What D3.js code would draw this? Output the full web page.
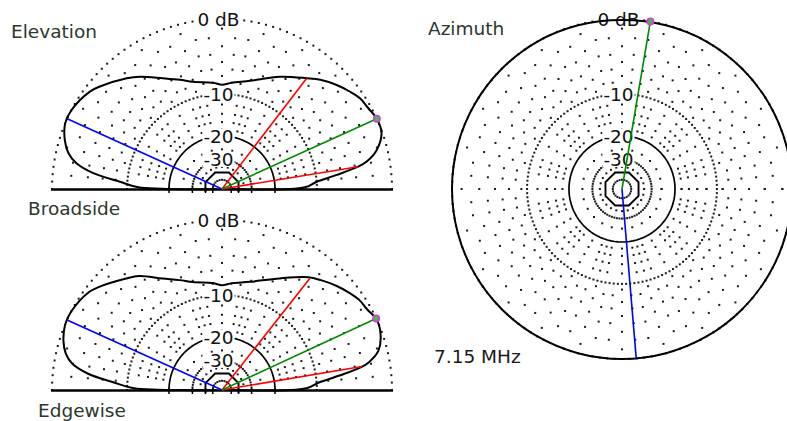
<!DOCTYPE html>
<html><head><meta charset="utf-8">
<script src="https://cdn.jsdelivr.net/npm/d3@7"></script>
<style>html,body{margin:0;padding:0;background:#fff;overflow:hidden}</style>
</head><body>
<svg id="c" width="787" height="421" xmlns="http://www.w3.org/2000/svg"></svg>
<script>
// ---------------- data ----------------
const titleTexts = ["Elevation", "Broadside", "Edgewise", "Azimuth", "7.15 MHz"];
const ringLabelText = ["0 dB", "-10", "-20", "-30"];
const ringLabelDb = [0, -10, -20, -30];

// grid levels (dB, ARRL log scale)
const denseRingDb = [0, -10, -30, -50];
const denseRingStep = [2.5, 2.5, 5, 15];
const sparseRingDb = [-2, -4, -6, -8, -12, -14, -16, -18];
const sparseRingStep = [5, 5, 5, 5, 10, 10, 10, 10];
const spokeDb = [-1, -3, -5, -7, -9, -12, -14, -16, -18, -25, -35];
const spokeStepDeg = 15;
const solidRingDb = -20;
const octagonRingDb = -40;
const groundTickDb = [-20, -30, -40, -50];

// elevation patterns: angle (deg above horizon, 0 = right) and gain (dB)
const elevAngles = [0, 1.2, 4.4, 7, 9.3, 10.7, 14.1, 19.3, 24.4, 29,
  33.3, 37.2, 42.2, 48, 52.6, 62.7, 75.5, 84.8, 90, 94.8,
  105.1, 111.1, 118.1, 126.1, 130.7, 140, 143.6, 152.5, 157.3, 162.7,
  166.9, 170, 173, 175.9, 178.8, 180];
const elevTopDb = [-60, -12.3, -10, -6.6, -3.6, -2.5, -1.1, -0.1, 0, -0.3,
  -0.5, -0.95, -1.6, -2.5, -3.4, -5.1, -7.2, -8.0, -8.4, -8.0,
  -7.3, -6.4, -5.2, -3.45, -2.6, -1.1, -0.6, 0, 0, -0.55,
  -1.3, -2.4, -4.65, -8.7, -12.2, -60];
const elevBottomDb = [-60, -12.0, -9.6, -6.2, -3.2, -2.2, -0.9, -0.2, 0, -0.4,
  -0.6, -1.0, -1.6, -2.4, -3.1, -5.2, -7.2, -7.9, -8.3, -7.9,
  -7.2, -6.3, -5.1, -3.2, -2.5, -1.0, -0.5, 0, 0, -0.4,
  -1.0, -1.9, -3.9, -7.6, -11.3, -60];

// marker lines: max angle, back angle, -3 dB beam edges
const topMaxAngle = 24.4, topBackAngle = 155.6;
const topBeamAngles = [9.3, 52.6], topBeamDb = [-3.6, -3.4];
const botMaxAngle = 24.9, botBackAngle = 155.7;
const botBeamAngles = [9.5, 51.8], botBeamDb = [-3.1, -3.1];

// azimuth pattern
const azAngles = [0, 15, 30, 45, 60, 75, 90, 105, 120, 135, 150, 165,
  180, 195, 210, 225, 240, 255, 270, 285, 300, 315, 330, 345];
const azDb = [0, 0, 0, 0, 0, -0.05, -0.1, -0.05, 0, 0, 0, 0,
  0, 0, 0, 0, 0, 0, 0, 0, 0, 0, 0, 0];
const azMaxAngle = 80.4, azBackAngle = 274.8;

// ---------------- drawing ----------------
const svg = d3.select("#c");
const R = 170;
const FONT = "DejaVu Sans, Verdana, sans-serif";
const FS = 18.5;

// ARRL log scale: r = R * 0.89^(-dB/2)  ==  R * g^0.50609 with g = field ratio
const gainScale = d3.scalePow().exponent(0.50609).domain([0, 1]).range([0, R]);
const rad = db => gainScale(Math.pow(10, db / 20));
// math angle (deg, ccw from +x) -> d3 radial angle
const ang = d3.scaleLinear().domain([0, 360]).range([Math.PI / 2, Math.PI / 2 - 2 * Math.PI]);
const P = (a, db) => d3.pointRadial(ang(a), rad(db));

function drawPolar(cx, cy, span, pattern, lines, closed) {
  const g = svg.append("g").attr("transform", `translate(${cx},${cy})`);
  const dots = [];
  denseRingDb.forEach((db, i) => {
    d3.range(0, span + (span === 360 ? 0 : 0.01), denseRingStep[i]).forEach(a => dots.push(P(a, db)));
  });
  sparseRingDb.forEach((db, i) => {
    d3.range(0, span + (span === 360 ? 0 : 0.01), sparseRingStep[i]).forEach(a => {
      if (a % spokeStepDeg === 0) return;
      dots.push(P(a, db));
    });
  });
  d3.range(0, span + 0.01, spokeStepDeg).forEach(a => {
    if (span < 360 && (a === 0 || a === 180)) return;
    spokeDb.forEach(db => dots.push(P(a, db)));
  });
  g.append("g").selectAll("rect").data(dots).join("rect")
    .attr("x", d => d[0] - 1).attr("y", d => d[1] - 1)
    .attr("width", 2).attr("height", 2).attr("fill", "#1c1c1c");

  // solid -20 ring
  const ringAngles = d3.range(span === 360 ? 0 : -1.5, span === 360 ? 360 : 181.6, 2);
  const ringLine = d3.lineRadial().angle(a => ang(a)).radius(rad(solidRingDb))
    .curve(span === 360 ? d3.curveLinearClosed : d3.curveLinear);
  g.append("path").attr("d", ringLine(ringAngles))
    .attr("fill", "none").attr("stroke", "#000").attr("stroke-width", 1.7);

  // octagon circumscribing the -40 dB ring
  const rho = rad(octagonRingDb) / Math.cos(Math.PI / 8);
  const octPts = span === 360
    ? d3.range(22.5, 360, 45).map(a => d3.pointRadial(ang(a), rho))
    : [[rad(octagonRingDb), 3]].concat(d3.range(22.5, 180, 45).map(a => d3.pointRadial(ang(a), rho)), [[-rad(octagonRingDb), 3]]);
  g.append("path")
    .attr("d", (span === 360 ? d3.line().curve(d3.curveLinearClosed) : d3.line())(octPts))
    .attr("fill", "none").attr("stroke", "#000").attr("stroke-width", 1.9);

  if (span < 360) {
    g.append("line").attr("x1", -R - 1).attr("x2", R + 1).attr("y1", 0.5).attr("y2", 0.5)
      .attr("stroke", "#000").attr("stroke-width", 2.4);
    groundTickDb.forEach(db => [-1, 1].forEach(s => {
      g.append("line").attr("x1", s * rad(db)).attr("x2", s * rad(db))
        .attr("y1", -2).attr("y2", 4).attr("stroke", "#000").attr("stroke-width", 1.5);
    }));
  }

  // ring labels with white background
  ringLabelDb.forEach((db, i) => {
    const y = -rad(db);
    const t = g.append("text").attr("x", -3.5).attr("y", y + 6.7)
      .attr("text-anchor", "middle").attr("font-family", FONT).attr("font-size", FS)
      .attr("fill", "#111").text(ringLabelText[i]);
    const bb = t.node().getBBox();
    g.insert("rect", () => t.node()).attr("x", bb.x - 1).attr("y", y - 7.5)
      .attr("width", bb.width + 2).attr("height", 15).attr("fill", "#fff");
  });

  // pattern
  const pts = pattern.angles.map((a, i) => ({ a, db: pattern.db[i] }));
  const pl = d3.lineRadial().angle(d => ang(d.a)).radius(d => rad(d.db))
    .curve(closed ? d3.curveCatmullRomClosed.alpha(0.5) : d3.curveCatmullRom.alpha(0.5));
  g.append("path").attr("d", pl(pts)).attr("fill", "none")
    .attr("stroke", "#000").attr("stroke-width", 2);

  // lines
  lines.forEach(l => {
    const p = P(l.a, l.db);
    g.append("line").attr("x1", 0).attr("y1", 0).attr("x2", p[0]).attr("y2", p[1])
      .attr("stroke", l.color).attr("stroke-width", 1.6);
  });
  const m = lines.find(l => l.marker);
  if (m) {
    const p = P(m.a, m.db);
    g.append("circle").attr("cx", p[0]).attr("cy", p[1]).attr("r", 3.2)
      .attr("fill", "#3fbf3f").attr("stroke", "#d838e0").attr("stroke-width", 1.6);
  }
}

drawPolar(222, 189, 180, { angles: elevAngles, db: elevTopDb }, [
  { a: topBackAngle, db: 0, color: "#0000ff" },
  { a: topBeamAngles[0], db: topBeamDb[0], color: "#ff0000" },
  { a: topBeamAngles[1], db: topBeamDb[1], color: "#ff0000" },
  { a: topMaxAngle, db: 0, color: "#008a00", marker: true }
], false);

drawPolar(222, 390, 180, { angles: elevAngles, db: elevBottomDb }, [
  { a: botBackAngle, db: 0, color: "#0000ff" },
  { a: botBeamAngles[0], db: botBeamDb[0], color: "#ff0000" },
  { a: botBeamAngles[1], db: botBeamDb[1], color: "#ff0000" },
  { a: botMaxAngle, db: 0, color: "#008a00", marker: true }
], false);

drawPolar(622, 189, 360, { angles: azAngles, db: azDb }, [
  { a: azBackAngle, db: 0, color: "#0000ff" },
  { a: azMaxAngle, db: 0, color: "#008a00", marker: true }
], true);

// titles
const titlePos = [[11, 37.5], [28, 215], [38, 416.5], [428, 35], [434, 362.5]];
const titleColor = ["#2c382c", "#2c382c", "#2c382c", "#2c382c", "#1a1a1a"];
titleTexts.forEach((t, i) => {
  svg.append("text").attr("x", titlePos[i][0]).attr("y", titlePos[i][1])
    .attr("font-family", FONT).attr("font-size", FS).attr("fill", titleColor[i]).text(t);
});
</script>
</body></html>
